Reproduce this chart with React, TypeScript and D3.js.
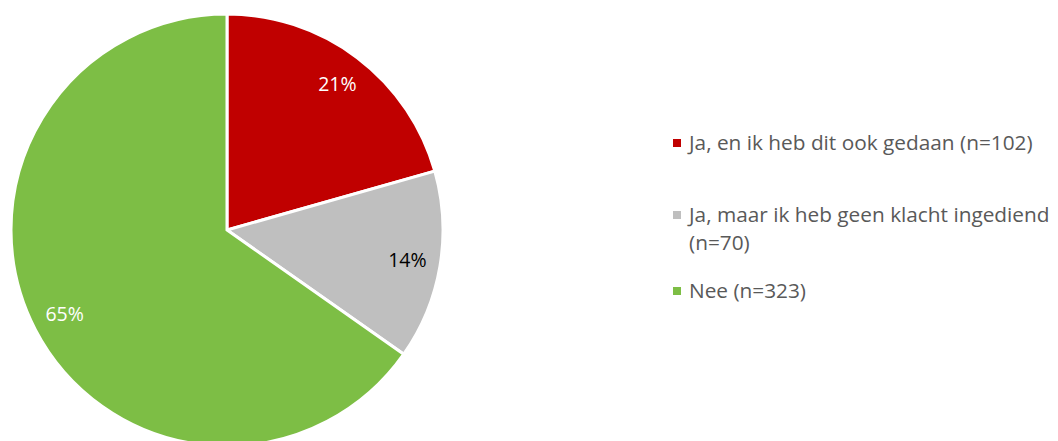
import React from "react";
import * as d3 from "d3";

const categories = [
  "Ja, en ik heb dit ook gedaan (n=102)",
  "Ja, maar ik heb geen klacht ingediend (n=70)",
  "Nee (n=323)",
];
const values = [102, 70, 323];
const labels = ["21%", "14%", "65%"];
const colors = ["#C00000", "#BFBFBF", "#7DBE45"];
const labelColors = ["#FFFFFF", "#000000", "#FFFFFF"];
const legendLines = [
  ["Ja, en ik heb dit ook gedaan (n=102)"],
  ["Ja, maar ik heb geen klacht ingediend", "(n=70)"],
  ["Nee (n=323)"],
];

export default function App() {
  const W = 1058, H = 441;
  const cx = 227, cy = 230, r = 216;
  const pie = d3.pie<number>().sort(null).value((d) => d)(values);
  const arc = d3.arc<d3.PieArcDatum<number>>().innerRadius(0).outerRadius(r);
  const labelArc = d3.arc<d3.PieArcDatum<number>>().innerRadius(183).outerRadius(183);
  const font = "'Open Sans', sans-serif";
  const legendY = [143, 215, 291];
  return (
    <svg width={W} height={H} style={{ position: "absolute", left: 0, top: 0 }} fontFamily={font}>
      <rect width={W} height={H} fill="#fff" />
      <g transform={`translate(${cx},${cy})`}>
        {pie.map((p, i) => (
          <path key={i} d={arc(p) || ""} fill={colors[i]} stroke="#fff" strokeWidth={3} strokeLinejoin="miter" />
        ))}
        {pie.map((p, i) => {
          const [x, y] = labelArc.centroid(p);
          return (
            <text key={i} x={x} y={y} dy="0.35em" textAnchor="middle" fontSize={19.5} fill={labelColors[i]}>
              {labels[i]}
            </text>
          );
        })}
      </g>
      <g>
        {categories.map((c, i) => (
          <g key={c}>
            <rect x={673} y={legendY[i] - 4} width={8} height={8} fill={colors[i]} />
            {legendLines[i].map((t, j) => (
              <text key={j} x={689} y={legendY[i] + j * 28} dy="0.35em" fontSize={20.8} fill="#595959">
                {t}
              </text>
            ))}
          </g>
        ))}
      </g>
    </svg>
  );
}
